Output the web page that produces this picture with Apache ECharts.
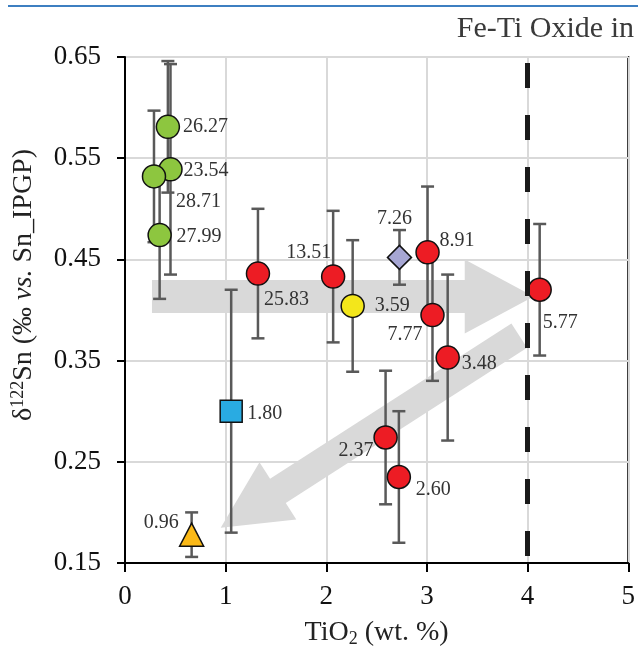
<!DOCTYPE html>
<html>
<head>
<meta charset="utf-8">
<title>δ122Sn vs TiO2</title>
<script src="https://cdn.jsdelivr.net/npm/echarts@6/dist/echarts.min.js"></script>
<style>
  html, body { margin: 0; padding: 0; background: #fff; }
  #main { width: 638px; height: 655px; }
</style>
</head>
<body>
<div id="main"></div>
<script>
// labels next to each sample
const sampleLabel = ['26.27', '23.54', '28.71', '27.99', '25.83', '13.51', '3.59', '7.26',
  '8.91', '7.77', '3.48', '5.77', '1.80', '0.96', '2.37', '2.60']
// TiO2 (wt. %)
const tio2 = [0.426, 0.452, 0.288, 0.344, 1.321, 2.068, 2.262, 2.727,
  3.006, 3.055, 3.206, 4.120, 1.055, 0.662, 2.589, 2.721]
// δ122Sn (‰)
const d122Sn = [0.581, 0.539, 0.532, 0.474, 0.436, 0.433, 0.404, 0.452,
  0.457, 0.395, 0.353, 0.420, 0.300, 0.178, 0.274, 0.235]
// 2SD
const err2sd = [0.065, 0.104, 0.065, 0.063, 0.064, 0.065, 0.065, 0.027,
  0.065, 0.065, 0.082, 0.065, 0.120, 0.022, 0.066, 0.065]
// marker group
const kind = ['green', 'green', 'green', 'green', 'red', 'red', 'yellow', 'diamond',
  'red', 'red', 'red', 'red', 'square', 'triangle', 'red', 'red']

// trend arrows, tail -> tip (data coords)
const arrowTail = [[0.268, 0.4134], [3.917, 0.3747]]
const arrowTip = [[4.061, 0.4134], [0.951, 0.1849]]
const cutoffTiO2 = 4

// ---- styles ----
const serif = '"Liberation Serif", "Times New Roman", serif'
const markerStyle = {
  green: { symbol: 'circle', size: 23, color: '#8dc63f' },
  red: { symbol: 'circle', size: 23, color: '#ed1c24' },
  yellow: { symbol: 'circle', size: 23, color: '#f3e61b' },
  diamond: { symbol: 'diamond', size: [24, 24], color: '#a6a6d3' },
  square: { symbol: 'rect', size: 22, color: '#29abe2' },
  triangle: { symbol: 'triangle', size: [24, 23], color: '#fbb917' }
}
// label anchor relative to marker centre: dx, dy, align
const labelPlace = [
  [15, 0, 'left'], [13, 1, 'left'], [22, 25, 'left'], [17, 2, 'left'],
  [6, 26, 'left'], [-2, -24, 'right'], [22, 0, 'left'], [-5, -39, 'center'],
  [12, -12, 'left'], [-10, 20, 'right'], [14, 6, 'left'], [3, 33, 'left'],
  [16, 3, 'left'], [-13, -12, 'right'], [-12, 13, 'right'], [17, 13, 'left']
]
// arrow shape in px: body half width, head half width, head length
const arrowShape = [[16.5, 37, 69], [14.5, 34, 68]]

const chart = echarts.init(document.getElementById('main'))

const pointData = tio2.map((x, i) => {
  const m = markerStyle[kind[i]]
  const p = labelPlace[i]
  return {
    value: [x, d122Sn[i]],
    symbol: m.symbol,
    symbolSize: m.size,
    itemStyle: { color: m.color },
    label: { position: 'inside', offset: [p[0], p[1]], align: p[2] }
  }
})

const option = {
  animation: false,
  backgroundColor: '#fff',
  grid: { left: 125, right: 5, top: 57, bottom: 92, show: true, borderColor: '#000', borderWidth: 2 },
  graphic: [
    { type: 'line', shape: { x1: 8, y1: 6, x2: 638, y2: 6 }, style: { stroke: '#3d7fc1', lineWidth: 2 } },
    { type: 'text', right: 4, top: 14, style: { text: 'Fe-Ti Oxide in', font: '30px ' + serif, fill: '#3a3a3a' } }
  ],
  xAxis: {
    type: 'value', min: 0, max: 5, interval: 1,
    name: '{n|TiO}{sub|2}{n| (wt. %)}', nameLocation: 'middle', nameGap: 55,
    nameTextStyle: {
      rich: {
        n: { fontFamily: serif, fontSize: 28, color: '#222' },
        sub: { fontFamily: serif, fontSize: 18, color: '#222', padding: [12, 0, 0, 0] }
      }
    },
    axisLine: { lineStyle: { color: '#000', width: 2 } },
    axisTick: { show: true, inside: false, length: 9, lineStyle: { color: '#000', width: 2 } },
    axisLabel: { fontFamily: serif, fontSize: 27, color: '#111', margin: 20 },
    splitLine: { show: true, lineStyle: { color: '#d9d9d9', width: 2 } }
  },
  yAxis: {
    type: 'value', min: 0.15, max: 0.65, interval: 0.1,
    name: '{n|δ}{sup|122}{n|Sn (‰ }{it|vs.}{n| Sn_IPGP)}', nameLocation: 'middle', nameGap: 86,
    nameTextStyle: {
      padding: [0, 0, 0, 50],
      rich: {
        n: { fontFamily: serif, fontSize: 28, color: '#222' },
        it: { fontFamily: serif, fontSize: 28, fontStyle: 'italic', color: '#222' },
        sup: { fontFamily: serif, fontSize: 18, color: '#222', padding: [0, 0, 12, 0] }
      }
    },
    axisLine: { show: true, lineStyle: { color: '#000', width: 2 } },
    axisTick: { show: true, inside: false, length: 8, lineStyle: { color: '#000', width: 2 } },
    axisLabel: { fontFamily: serif, fontSize: 27, color: '#111', margin: 24, formatter: v => v.toFixed(2) },
    splitLine: { show: true, lineStyle: { color: '#d9d9d9', width: 2 } }
  },
  series: [
    {
      // grey trend arrows
      type: 'custom', z: 1, silent: true,
      data: arrowTail.map((t, i) => [t[0], t[1], arrowTip[i][0], arrowTip[i][1]]),
      renderItem(params, api) {
        const a = api.coord([api.value(0), api.value(1)])
        const b = api.coord([api.value(2), api.value(3)])
        const [bw, hw, hl] = arrowShape[params.dataIndex]
        const dx = b[0] - a[0], dy = b[1] - a[1]
        const len = Math.sqrt(dx * dx + dy * dy)
        const ux = dx / len, uy = dy / len
        const nx = -uy, ny = ux
        const hx = b[0] - ux * hl, hy = b[1] - uy * hl
        const pts = [
          [a[0] + nx * bw, a[1] + ny * bw],
          [hx + nx * bw, hy + ny * bw],
          [hx + nx * hw, hy + ny * hw],
          [b[0], b[1]],
          [hx - nx * hw, hy - ny * hw],
          [hx - nx * bw, hy - ny * bw],
          [a[0] - nx * bw, a[1] - ny * bw]
        ]
        return { type: 'polygon', shape: { points: pts }, style: { fill: '#d9d9d9' } }
      }
    },
    {
      // error bars + TiO2 cut-off line
      type: 'custom', z: 3, silent: true,
      data: tio2.map((x, i) => [x, d122Sn[i], err2sd[i]]),
      renderItem(params, api) {
        const x = api.value(0), y = api.value(1), e = api.value(2)
        const t = api.coord([x, y + e]), b = api.coord([x, y - e])
        const cap = 6.5
        const st = { stroke: '#595959', lineWidth: 2.5 }
        return {
          type: 'group',
          children: [
            { type: 'line', shape: { x1: t[0], y1: t[1], x2: b[0], y2: b[1] }, style: st },
            { type: 'line', shape: { x1: t[0] - cap, y1: t[1], x2: t[0] + cap, y2: t[1] }, style: st },
            { type: 'line', shape: { x1: b[0] - cap, y1: b[1], x2: b[0] + cap, y2: b[1] }, style: st }
          ]
        }
      },
      markLine: {
        silent: true, symbol: 'none', label: { show: false },
        lineStyle: { color: '#1a1a1a', width: 5, type: [25, 27], dashOffset: 46 },
        data: [[{ coord: [cutoffTiO2, 0.65] }, { coord: [cutoffTiO2, 0.15] }]]
      }
    },
    {
      type: 'scatter', z: 4,
      itemStyle: { borderColor: '#111', borderWidth: 1.5, opacity: 1 },
      label: {
        show: true, fontFamily: serif, fontSize: 20, color: '#333', verticalAlign: 'middle',
        formatter: p => sampleLabel[p.dataIndex]
      },
      data: pointData
    }
  ]
}

chart.setOption(option)
</script>
</body>
</html>
